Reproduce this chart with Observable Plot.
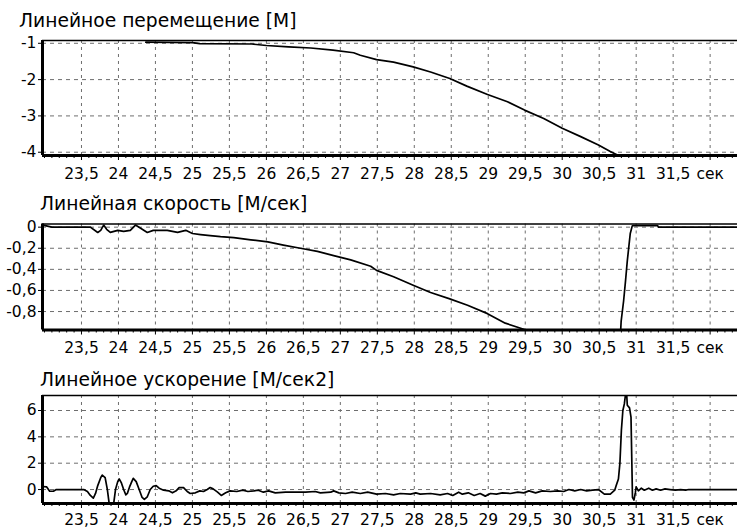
<!DOCTYPE html>
<html>
<head>
<meta charset="utf-8">
<script src="https://cdn.jsdelivr.net/npm/d3@7"></script>
<script src="https://cdn.jsdelivr.net/npm/@observablehq/plot@0.6"></script>
<style>
  html, body { margin: 0; padding: 0; background: #fff; }
  #root { position: relative; width: 737px; height: 529px; overflow: hidden; background: #fff; }
  .panel { position: absolute; left: 0; }
  .title { position: absolute; font-family: "DejaVu Sans", sans-serif; font-size: 18.7px; line-height: 18.7px; color: #000; white-space: nowrap; z-index: 2; }
</style>
</head>
<body>
<div id="root"></div>
<script>
// ---- Titles ----
const titles = ["Линейное перемещение [М]", "Линейная скорость [М/сек]", "Линейное ускорение [М/сек2]"];

// ---- X axis ----
const xDomain = [22.973, 32.37];
const xMajorTicks = [23.5, 24, 24.5, 25, 25.5, 26, 26.5, 27, 27.5, 28, 28.5, 29, 29.5, 30, 30.5, 31, 31.5, 32];
const xUnitLabel = "сек";

// ---- Panel 1: displacement ----
const dispTime = [24.37, 25.0, 25.1, 25.8, 26.0, 26.3, 26.6, 26.9, 27.18, 27.27, 27.49, 27.72, 27.985, 28.22, 28.48, 28.71, 28.99, 29.26, 29.49, 29.75, 30.0, 30.25, 30.49, 30.65, 30.77];
const dispValue = [-0.97, -0.98, -1.01, -1.02, -1.06, -1.10, -1.13, -1.19, -1.26, -1.33, -1.45, -1.52, -1.65, -1.79, -1.97, -2.18, -2.41, -2.61, -2.84, -3.07, -3.34, -3.57, -3.80, -3.98, -4.10];
const dispTicks = [-1, -2, -3, -4];

// ---- Panel 2: speed ----
const speedTime = [22.98, 23.1, 23.62, 23.72, 23.76, 23.80, 23.84, 23.89, 23.99, 24.07, 24.16, 24.23, 24.30, 24.39, 24.47, 24.66, 24.8, 24.91, 25.0, 25.11, 25.24, 25.38, 25.56, 25.79, 26.02, 26.23, 26.46, 26.69, 26.91, 27.14, 27.41, 27.49, 27.72, 27.985, 28.22, 28.48, 28.72, 28.99, 29.23, 29.49, 29.8, 30.2, 30.5, 30.77, 30.797, 30.83, 30.856, 30.88, 30.9, 30.92, 30.946, 30.96, 31.29, 31.3, 32.37];
const speedValue = [0.02, 0.0, 0.0, -0.05, -0.03, 0.02, -0.02, -0.05, -0.03, -0.04, -0.03, 0.02, -0.01, -0.05, -0.03, -0.03, -0.05, -0.03, -0.06, -0.07, -0.08, -0.09, -0.10, -0.12, -0.14, -0.17, -0.20, -0.23, -0.27, -0.31, -0.37, -0.41, -0.47, -0.55, -0.62, -0.68, -0.74, -0.82, -0.91, -0.97, -1.05, -1.15, -1.22, -1.25, -0.89, -0.70, -0.51, -0.32, -0.19, -0.06, 0.01, 0.015, 0.015, 0.0, 0.0];
const speedTicks = [0, -0.2, -0.4, -0.6, -0.8];

// ---- Panel 3: acceleration ----
const accTime = [22.973, 23.03, 23.07, 23.12, 23.16, 23.53, 23.58, 23.62, 23.66, 23.69, 23.72, 23.76, 23.78, 23.82, 23.85, 23.88, 23.93, 23.96, 23.99, 24.01, 24.04, 24.07, 24.1, 24.12, 24.15, 24.18, 24.2, 24.24, 24.28, 24.32, 24.35, 24.39, 24.43, 24.47, 24.51, 24.55, 24.61, 24.68, 24.73, 24.78, 24.82, 24.88, 24.93, 24.97, 25.04, 25.1, 25.15, 25.2, 25.24, 25.28, 25.34, 25.39, 25.45, 25.51, 25.6, 25.68, 25.75, 25.83, 25.89, 25.96, 26.03, 26.12, 26.26, 26.39, 26.53, 26.66, 26.73, 26.87, 26.91, 26.98, 27.07, 27.16, 27.27, 27.37, 27.49, 27.61, 27.72, 27.81, 27.95, 28.02, 28.08, 28.22, 28.35, 28.45, 28.52, 28.6, 28.65, 28.73, 28.81, 28.89, 28.96, 29.03, 29.11, 29.19, 29.3, 29.4, 29.48, 29.55, 29.64, 29.73, 29.84, 29.94, 30.02, 30.09, 30.17, 30.25, 30.33, 30.41, 30.49, 30.57, 30.65, 30.71, 30.73, 30.76, 30.78, 30.8, 30.82, 30.84, 30.86, 30.87, 30.88, 30.91, 30.93, 30.94, 30.95, 30.97, 30.99, 31.0, 31.03, 31.07, 31.11, 31.17, 31.22, 31.27, 31.33, 31.39, 31.46, 31.53, 31.6, 31.67, 31.71, 32.37];
const accValue = [0.23, 0.2, -0.13, -0.13, 0.0, 0.0, -0.15, -0.45, -0.65, -0.3, 0.3, 0.9, 1.1, 0.9, 0.0, -1.3, -1.3, 0.0, 0.6, 0.8, 0.5, 0.0, -0.4, -0.3, 0.2, 0.6, 0.85, 0.6, 0.0, -0.6, -0.75, -0.55, 0.0, 0.25, 0.3, 0.1, -0.05, -0.1, -0.25, -0.1, 0.15, 0.15, -0.15, -0.3, -0.25, -0.1, -0.15, 0.0, 0.15, 0.05, -0.2, -0.45, -0.25, -0.1, -0.15, -0.05, -0.15, -0.1, -0.05, -0.2, -0.1, -0.25, -0.2, -0.2, -0.2, -0.15, -0.25, -0.2, -0.1, -0.25, -0.3, -0.2, -0.3, -0.2, -0.35, -0.3, -0.4, -0.3, -0.35, -0.25, -0.35, -0.3, -0.4, -0.3, -0.45, -0.2, -0.35, -0.25, -0.45, -0.3, -0.5, -0.3, -0.35, -0.25, -0.3, -0.2, -0.25, -0.1, -0.25, -0.1, -0.15, -0.1, -0.15, 0.0, -0.1, 0.0, -0.1, -0.05, 0.0, -0.35, -0.35, -0.05, 0.3, 0.8, 2.0, 4.5, 6.0, 6.5, 7.4, 7.4, 6.4, 6.2, 5.5, 2.5, -0.6, -0.8, -0.2, 0.2, -0.1, 0.1, -0.05, 0.1, -0.05, 0.05, -0.05, 0.05, 0.0, -0.05, 0.0, -0.05, 0.0, 0.0];
const accTicks = [0, 2, 4, 6];

// ---- helpers ----
const xMinorTicks = d3.range(230, 324).map(d => d / 10).filter(d => !xMajorTicks.includes(d));
const fmtX = d => d === 32 ? xUnitLabel : String(d).replace(".", ",");
const fmtY = d => String(d).replace(".", ",");

function panel({time, value, yDomain, yTicks, height, marginTop, marginBottom, tickPadding}) {
  const data = time.map((t, i) => ({t, v: value[i]}));
  return Plot.plot({
    width: 737,
    height,
    marginLeft: 42,
    marginRight: 0,
    marginTop,
    marginBottom,
    style: {fontFamily: "DejaVu Sans, sans-serif", fontSize: "15.5px", color: "#000", background: "transparent", overflow: "visible"},
    x: {domain: xDomain},
    y: {domain: yDomain},
    marks: [
      Plot.gridX(xMajorTicks, {stroke: "#6e6e6e", strokeOpacity: 1, strokeDasharray: "3,4"}),
      Plot.gridY(yTicks, {stroke: "#6e6e6e", strokeOpacity: 1, strokeDasharray: "4,4"}),
      Plot.axisX(xMinorTicks, {tickSize: 3, tickFormat: () => "", label: null}),
      Plot.axisX(xMajorTicks, {tickSize: 5, tickPadding, tickFormat: fmtX, label: null}),
      Plot.axisY(yTicks, {tickSize: 4, tickPadding: 2, tickFormat: fmtY, label: null}),
      Plot.line(data, {x: "t", y: "v", stroke: "#000", strokeWidth: 1.7, clip: true}),
      Plot.ruleY([yDomain[1]], {stroke: "#000", strokeWidth: 1.5}),
      Plot.ruleY([yDomain[0]], {stroke: "#000", strokeWidth: 3}),
      Plot.ruleX([xDomain[0]], {stroke: "#000", strokeWidth: 3})
    ]
  });
}

const root = document.getElementById("root");
const specs = [
  {top: 0, time: dispTime, value: dispValue, yDomain: [-4.09, -0.923], yTicks: dispTicks, height: 185, marginTop: 40, marginBottom: 30, tickPadding: 7},
  {top: 190, time: speedTime, value: speedValue, yDomain: [-0.975, 0.03], yTicks: speedTicks, height: 170, marginTop: 33.5, marginBottom: 30.5, tickPadding: 7},
  {top: 365, time: accTime, value: accValue, yDomain: [-1.06, 7.14], yTicks: accTicks, height: 164, marginTop: 30, marginBottom: 26, tickPadding: 5}
];
const titlePos = [{left: 19, top: 12}, {left: 40, top: 195}, {left: 40, top: 371}];

specs.forEach((s, i) => {
  const svg = panel(s);
  svg.classList.add("panel");
  svg.style.position = "absolute";
  svg.style.top = s.top + "px";
  svg.style.left = "0px";
  root.appendChild(svg);
  const t = document.createElement("div");
  t.className = "title";
  t.textContent = titles[i];
  t.style.left = titlePos[i].left + "px";
  t.style.top = titlePos[i].top + "px";
  root.appendChild(t);
});
</script>
</body>
</html>
